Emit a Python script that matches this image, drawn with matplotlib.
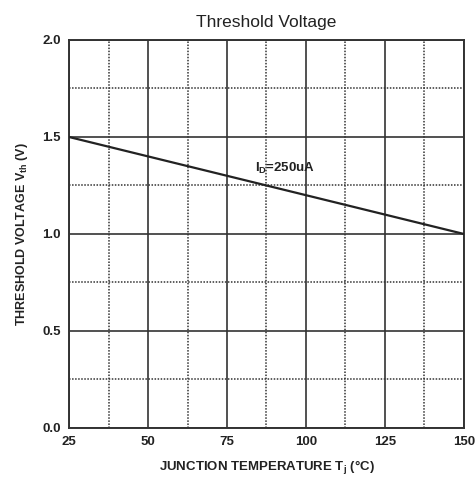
import matplotlib
matplotlib.use("Agg")
import matplotlib.pyplot as plt
from matplotlib.ticker import MultipleLocator

# junction temperature (degC) vs gate threshold voltage (V)
temp = [25, 150]
vth = [1.5, 1.0]
x_ticks = [25, 50, 75, 100, 125, 150]
y_ticks = [0.0, 0.5, 1.0, 1.5, 2.0]

INK = "#222222"
NARROW = ["Liberation Sans Narrow", "Liberation Sans", "DejaVu Sans"]
plt.rcParams["font.family"] = ["Liberation Sans", "DejaVu Sans"]

fig = plt.figure(figsize=(4.77, 4.79), dpi=100)
ax = fig.add_axes([0.1447, 0.1065, 0.828, 0.81])

ax.plot(temp, vth, color=INK, lw=1.6, zorder=3)
ax.text(84, 1.34, r"I$_\mathregular{D}$=250uA", fontsize=9.5, color=INK,
        family=NARROW, weight="bold", ha="left", va="center")

ax.set_xlim(25, 150)
ax.set_ylim(0, 2.0)
ax.set_xticks(x_ticks)
ax.set_yticks(y_ticks)
ax.set_yticklabels([f"{v:.1f}" for v in y_ticks])
ax.xaxis.set_minor_locator(MultipleLocator(12.5))
ax.yaxis.set_minor_locator(MultipleLocator(0.25))
ax.grid(True, which="major", color="#333333", lw=1.2, ls="-")
ax.grid(True, which="minor", color="#333333", lw=1.1, ls=(0, (1, 1)))
ax.tick_params(which="both", length=0, colors=INK, pad=6)
for lab in ax.get_xticklabels() + ax.get_yticklabels():
    lab.set_family(NARROW)
    lab.set_fontweight("bold")
    lab.set_fontsize(9.5)
for s in ax.spines.values():
    s.set_color("#333333")
    s.set_linewidth(1.4)

ax.set_title("Threshold Voltage", fontsize=12.5, color=INK, pad=9)
ax.set_xlabel("JUNCTION TEMPERATURE T$_\\mathregular{j}$ (\u00b0C)",
              fontsize=9.5, color=INK, family=NARROW, weight="bold", labelpad=8)
ax.set_ylabel("THRESHOLD VOLTAGE V$_\\mathregular{th}$ (V)", fontsize=9,
              color=INK, family=NARROW, weight="bold", labelpad=9)

fig.savefig("out.png", dpi=100)
